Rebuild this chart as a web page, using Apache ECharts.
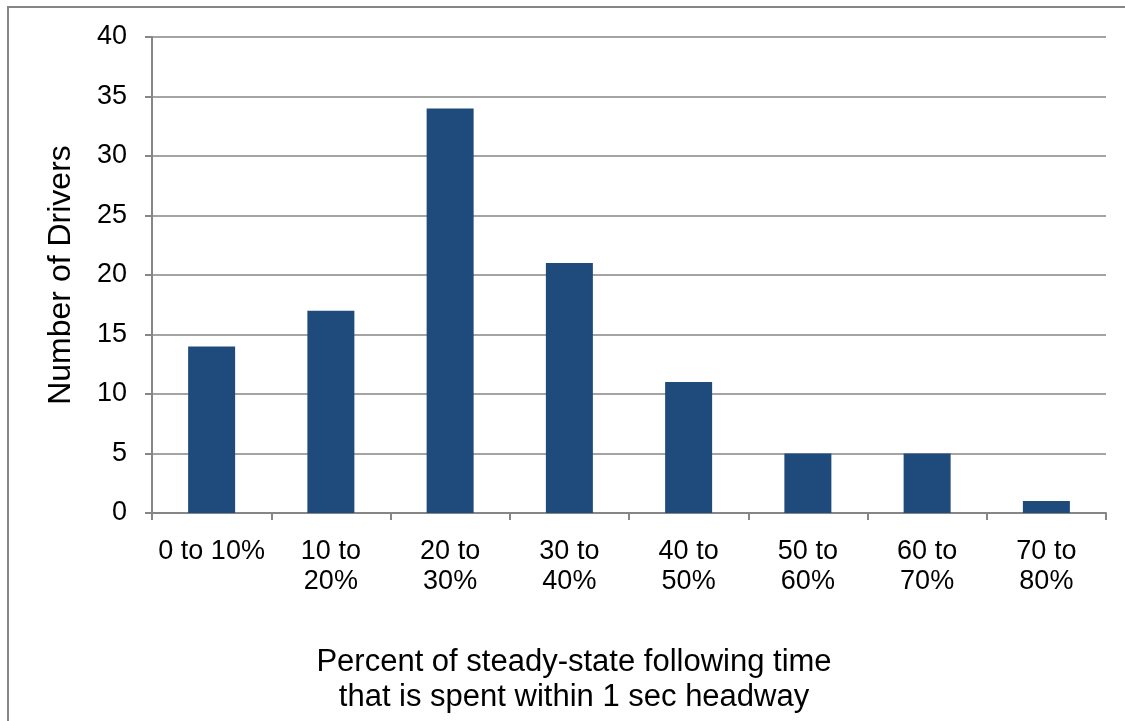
<!DOCTYPE html>
<html>
<head>
<meta charset="utf-8">
<script src="https://cdn.jsdelivr.net/npm/echarts@6/dist/echarts.min.js"></script>
<style>
  html, body { margin: 0; padding: 0; background: #ffffff; }
  #chart { width: 1125px; height: 721px; }
</style>
</head>
<body>
<div id="chart"></div>
<script>
// Headway distribution: share of steady-state following time within 1 s
const categories = ['0 to 10%', '10 to\n20%', '20 to\n30%', '30 to\n40%', '40 to\n50%', '50 to\n60%', '60 to\n70%', '70 to\n80%'];
const drivers = [14, 17, 34, 21, 11, 5, 5, 1];
const yTicks = { min: 0, max: 40, interval: 5 };
const yName = 'Number of Drivers';
const xName = 'Percent of steady-state following time\nthat is spent within 1 sec headway';

const FONT = '"Liberation Sans", Arial, sans-serif';
const GREY = '#868686';

const chart = echarts.init(document.getElementById('chart'), null, { renderer: 'canvas' });
chart.setOption({
  backgroundColor: '#ffffff',
  animation: false,
  grid: { left: 152, right: 19, top: 37, bottom: 208, containLabel: false },
  graphic: [
    {
      type: 'rect',
      shape: { x: 8, y: 7, width: 1300, height: 900 },
      style: { fill: 'none', stroke: GREY, lineWidth: 2 },
      silent: true
    },
    {
      type: 'text',
      x: 574,
      y: 680,
      style: {
        text: xName,
        font: '31px ' + FONT,
        fill: '#000000',
        align: 'center',
        verticalAlign: 'middle',
        lineHeight: 35
      }
    }
  ],
  xAxis: {
    type: 'category',
    data: categories,
    boundaryGap: true,
    axisLine: { show: true, lineStyle: { color: GREY, width: 2 } },
    axisTick: { show: true, alignWithLabel: false, length: 7, lineStyle: { color: GREY, width: 2 } },
    axisLabel: {
      interval: 0,
      margin: 24,
      color: '#000000',
      fontFamily: FONT,
      fontSize: 27,
      lineHeight: 30,
      align: 'center'
    },
    splitLine: { show: false }
  },
  yAxis: {
    type: 'value',
    min: yTicks.min,
    max: yTicks.max,
    interval: yTicks.interval,
    name: yName,
    nameLocation: 'middle',
    nameRotate: 90,
    nameGap: 75,
    nameMoveOverlap: false,
    nameTextStyle: { color: '#000000', fontFamily: FONT, fontSize: 32 },
    axisLine: { show: true, lineStyle: { color: GREY, width: 2 } },
    axisTick: { show: true, length: 7, lineStyle: { color: GREY, width: 2 } },
    axisLabel: { margin: 25, color: '#000000', fontFamily: FONT, fontSize: 27 },
    splitLine: { show: true, lineStyle: { color: GREY, width: 1.5 } }
  },
  series: [
    {
      type: 'bar',
      data: drivers,
      barWidth: 47,
      itemStyle: { color: '#1F4A7C' }
    }
  ]
});
</script>
</body>
</html>
